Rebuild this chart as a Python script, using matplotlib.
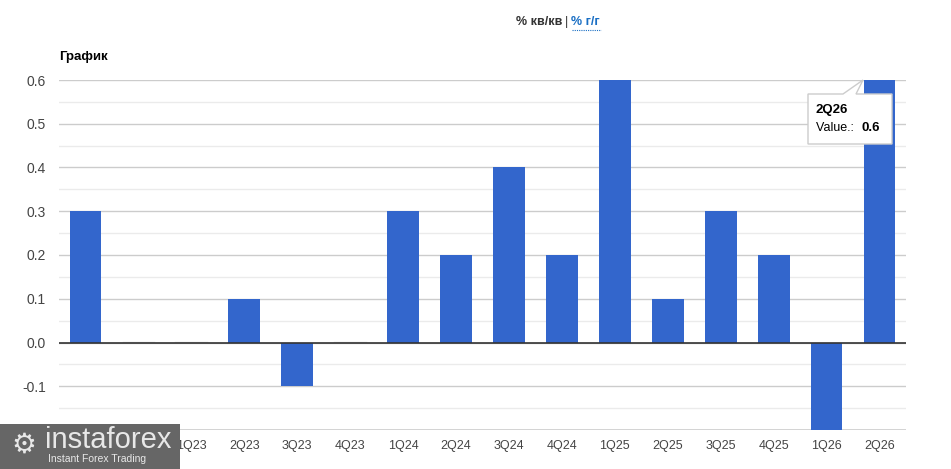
import matplotlib.pyplot as plt
from matplotlib.patches import Rectangle, Polygon
import numpy as np

plt.rcParams['font.family'] = ['Liberation Sans', 'DejaVu Sans']

# data
quarters = ['3Q22', '4Q22', '1Q23', '2Q23', '3Q23', '4Q23', '1Q24', '2Q24',
            '3Q24', '4Q24', '1Q25', '2Q25', '3Q25', '4Q25', '1Q26', '2Q26']
values = [0.3, 0.0, 0.0, 0.1, -0.1, 0.0, 0.3, 0.2,
          0.4, 0.2, 0.6, 0.1, 0.3, 0.2, -0.2, 0.6]
y_ticks = [-0.1, 0.0, 0.1, 0.2, 0.3, 0.4, 0.5, 0.6]

W, H = 951, 469
fig = plt.figure(figsize=(W / 100, H / 100), dpi=100)
ax = fig.add_axes([59 / W, 1 - 430 / H, (906 - 59) / W, (430 - 80) / H])

x = np.arange(len(quarters))
ax.bar(x, values, width=0.6, color='#3366cc', zorder=3)
# faint marks for zero bars
for xi, v in zip(x, values):
    if v == 0:
        ax.plot([xi - 0.3, xi + 0.3], [0.002, 0.002], color='#dddddd', lw=1, zorder=2)

ax.set_xlim(-0.5, len(quarters) - 0.5)
ax.set_ylim(-0.2, 0.6)
ax.set_yticks(y_ticks)
ax.set_yticklabels([f'{t:.1f}' for t in y_ticks])
ax.set_yticks(np.arange(-0.15, 0.6, 0.1), minor=True)
ax.set_xticks(x)
ax.set_xticklabels(quarters)

ax.grid(axis='y', which='major', color='#cccccc', lw=1, zorder=0)
ax.grid(axis='y', which='minor', color='#ebebeb', lw=1, zorder=0)
ax.axhline(0, color='#333333', lw=1.2, zorder=4)
ax.axhline(-0.2, color='#cccccc', lw=1.2, zorder=1)
for s in ax.spines.values():
    s.set_visible(False)
ax.tick_params(axis='both', which='both', length=0, labelsize=9, labelcolor='#444444')
ax.tick_params(axis='y', pad=9.5)
ax.tick_params(axis='x', pad=7)
for lab in ax.get_yticklabels():
    lab.set_fontsize(10)

# titles
fig.text(59 / W, 1 - 57 / H, 'График', fontsize=9.5, fontweight='bold', va='center', ha='left')
fig.text(562 / W, 1 - 22 / H, '% кв/кв', fontsize=9, fontweight='bold',
         color='#333333', va='center', ha='right')
fig.text(567 / W, 1 - 22 / H, '|', fontsize=9, color='#333333', va='center', ha='center')
fig.text(571 / W, 1 - 22 / H, '% г/г', fontsize=9, fontweight='bold',
         color='#1a6fc4', va='center', ha='left')
fig.add_artist(plt.Line2D([572 / W, 601 / W], [1 - 30 / H, 1 - 30 / H],
                          color='#1a6fc4', lw=0.8, ls=(0, (1, 1))))

# tooltip
tip = Polygon([(808 / W, 1 - 94 / H), (843 / W, 1 - 94 / H), (863 / W, 1 - 80 / H),
               (856 / W, 1 - 94 / H), (892 / W, 1 - 94 / H), (892 / W, 1 - 144 / H),
               (808 / W, 1 - 144 / H)], closed=True, transform=fig.transFigure,
              facecolor='white', edgecolor='#cccccc', lw=1, zorder=10)
fig.add_artist(tip)
fig.text(816 / W, 1 - 110 / H, '2Q26', fontsize=9.5, fontweight='bold', va='center', zorder=11)
fig.text(816 / W, 1 - 128 / H, 'Value.: ', fontsize=9, va='center', zorder=11)
fig.text(862 / W, 1 - 128 / H, '0.6', fontsize=9.5, fontweight='bold', va='center', zorder=11)

# watermark
fig.add_artist(Rectangle((0, 0), 180 / W, 45 / H, transform=fig.transFigure,
                         facecolor='#666666', edgecolor='none', zorder=12))
fig.text(45 / W, 1 - 440 / H, 'instaforex', fontsize=21, color='#e8e8e8',
         va='center', ha='left', zorder=13)
fig.text(48 / W, 1 - 459 / H, 'Instant Forex Trading', fontsize=7.5, color='#e8e8e8',
         va='center', ha='left', zorder=13)
fig.text(24 / W, 1 - 445 / H, '⚙', fontsize=20, color='#e8e8e8', family='DejaVu Sans',
         va='center', ha='center', zorder=13)

fig.savefig('out.png', dpi=100)
